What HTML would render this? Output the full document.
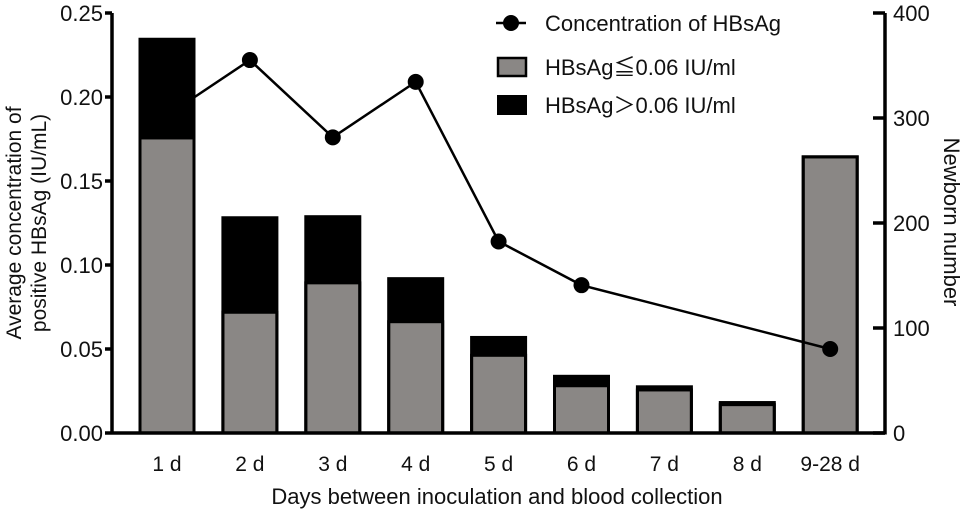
<!DOCTYPE html>
<html><head><meta charset="utf-8"><style>
body{margin:0;background:#fff}
svg text{font-family:"Liberation Sans",Arial,"Noto Sans CJK SC",sans-serif;fill:#111}
.cjk{font-family:"Noto Sans CJK SC",sans-serif}
</style></head><body>
<svg id="chart" width="964" height="514" viewBox="0 0 964 514"></svg>
<script>
const categories=["1 d","2 d","3 d","4 d","5 d","6 d","7 d","8 d","9-28 d"];
const lowCounts=[281,115,143,106,74,45,41,27,263];
const totalCounts=[375,205,206,147,91,54,44,29,263];
const concentration=[0.189,0.222,0.176,0.209,0.114,0.088,null,null,0.050];
const leftTicks=[0,0.05,0.10,0.15,0.20,0.25];
const leftTickLabels=["0.00","0.05","0.10","0.15","0.20","0.25"];
const rightTicks=[0,100,200,300,400];

const NS="http://www.w3.org/2000/svg";
const svg=document.getElementById('chart');
const X0=112,X1=885,Y0=433,Y1=13;
const yL=v=>Y0-(v/0.25)*(Y0-Y1);
const yR=v=>Y0-(v/400)*(Y0-Y1);
const xC=i=>167+i*82.9;
const BW=54;
function el(tag,attrs,parent){const e=document.createElementNS(NS,tag);for(const k in attrs)e.setAttribute(k,attrs[k]);(parent||svg).appendChild(e);return e;}

// bars
categories.forEach((c,i)=>{
  const x=xC(i)-BW/2;
  const g=el('g',{});
  
  
  const hi=el('rect',{x:x,y:yR(totalCounts[i]),width:BW,height:yR(lowCounts[i])-yR(totalCounts[i]),fill:'#000'},g);
  
  
  const lo=el('rect',{x:x,y:yR(lowCounts[i]),width:BW,height:Y0-yR(lowCounts[i]),fill:'#8a8785',stroke:'#000','stroke-width':3},g);
  
  
  el('rect',{x:x,y:yR(totalCounts[i]),width:BW,height:Y0-yR(totalCounts[i]),fill:'none',stroke:'#000','stroke-width':3},g);
  const t=el('text',{x:xC(i),y:471,'text-anchor':'middle','font-size':21});
  t.textContent=c;
  
  
});

// line
let pts=[];concentration.forEach((v,i)=>{if(v!==null)pts.push(xC(i)+','+yL(v));});
const line=el('polyline',{points:pts.join(' '),fill:'none',stroke:'#000','stroke-width':2.5});



// points
concentration.forEach((v,i)=>{if(v===null)return;
  const p=el('circle',{cx:xC(i),cy:yL(v),r:8,fill:'#000'});
  
  
});

// axes
el('line',{x1:X0,y1:Y1,x2:X0,y2:Y0+1.5,stroke:'#000','stroke-width':3.5});
el('line',{x1:X1,y1:Y1,x2:X1,y2:Y0+1.5,stroke:'#000','stroke-width':3.5});
el('line',{x1:X0,y1:Y0,x2:X1,y2:Y0,stroke:'#000','stroke-width':3.5});
leftTicks.forEach((v,i)=>{
  el('line',{x1:X0-7,y1:yL(v),x2:X0,y2:yL(v),stroke:'#000','stroke-width':3.5});
  const t=el('text',{x:103,y:yL(v)+8,'text-anchor':'end','font-size':22});
  t.textContent=leftTickLabels[i];
  
  
});
rightTicks.forEach(v=>{
  el('line',{x1:X1-12,y1:yR(v),x2:X1,y2:yR(v),stroke:'#000','stroke-width':3.5});
  const t=el('text',{x:893,y:yR(v)+8,'font-size':22});
  t.textContent=v;
  
  
});
</script>
<svg width="964" height="514" style="position:absolute;left:0;top:0">
<text transform="translate(21,223) rotate(-90)" text-anchor="middle" font-size="21">Average concentration of</text>
<text transform="translate(46,223) rotate(-90)" text-anchor="middle" font-size="21">positive HBsAg (IU/mL)</text>
<text transform="translate(944,222) rotate(90)" text-anchor="middle" font-size="22">Newborn number</text>
<text x="497" y="504" text-anchor="middle" font-size="22">Days between inoculation and blood collection</text>
<g>
<line x1="496" y1="23" x2="526" y2="23" stroke="#000" stroke-width="2.5"/>
<circle cx="511" cy="23" r="8" fill="#000"/>
<text x="545" y="31" font-size="22">Concentration of HBsAg</text>
<rect x="498" y="58" width="28" height="18" fill="#8a8785" stroke="#000" stroke-width="2.5"/>
<text x="545" y="75" font-size="22">HBsAg<tspan class="cjk">≦</tspan>0.06 IU/ml</text>
<rect x="497" y="95" width="30" height="20" fill="#000"/>
<text x="545" y="113" font-size="22">HBsAg<tspan class="cjk">＞</tspan>0.06 IU/ml</text>
</g>
</svg>
</body></html>
